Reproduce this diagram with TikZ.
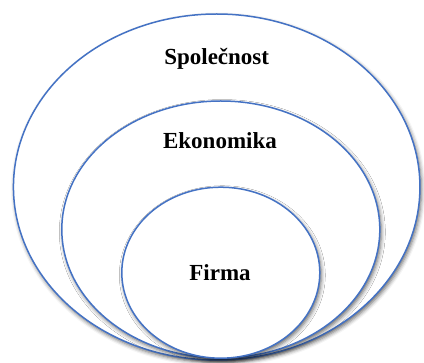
\documentclass[tikz,border=0pt]{standalone}
\usepackage{fontspec}
\setmainfont{Liberation Serif}
\usetikzlibrary{shapes.geometric,shadows.blur}
\definecolor{ringblue}{HTML}{4472C4}
\tikzset{
  ring/.style={ellipse,draw=ringblue,line width=1.5pt,fill=white,inner sep=0pt,
    blur shadow={shadow xshift=1.5pt,shadow yshift=-2.5pt,shadow blur radius=4pt,shadow opacity=60}},
  label/.style={anchor=base,font=\fontsize{23}{27}\selectfont\bfseries}
}
\begin{document}
\begin{tikzpicture}[x=1pt,y=-1pt]
    \useasboundingbox (0,0) rectangle (424,363);
    % nested circles
    \node[ring,minimum width=406.5pt,minimum height=346pt] (spol) at (216.7,187) {};
    \node[ring,minimum width=318pt,minimum height=257pt] (ekon) at (220.8,229.5) {};
    \node[ring,minimum width=198pt,minimum height=171pt] (firma) at (220.8,272.7) {};
    % labels
    \node[label] (spoltext) at (216.7,65) {Společnost};
    \node[label] (ekontext) at (220,148.3) {Ekonomika};
    \node[label] (firmatext) at (220,281) {Firma};
  \end{tikzpicture}
\end{document}
